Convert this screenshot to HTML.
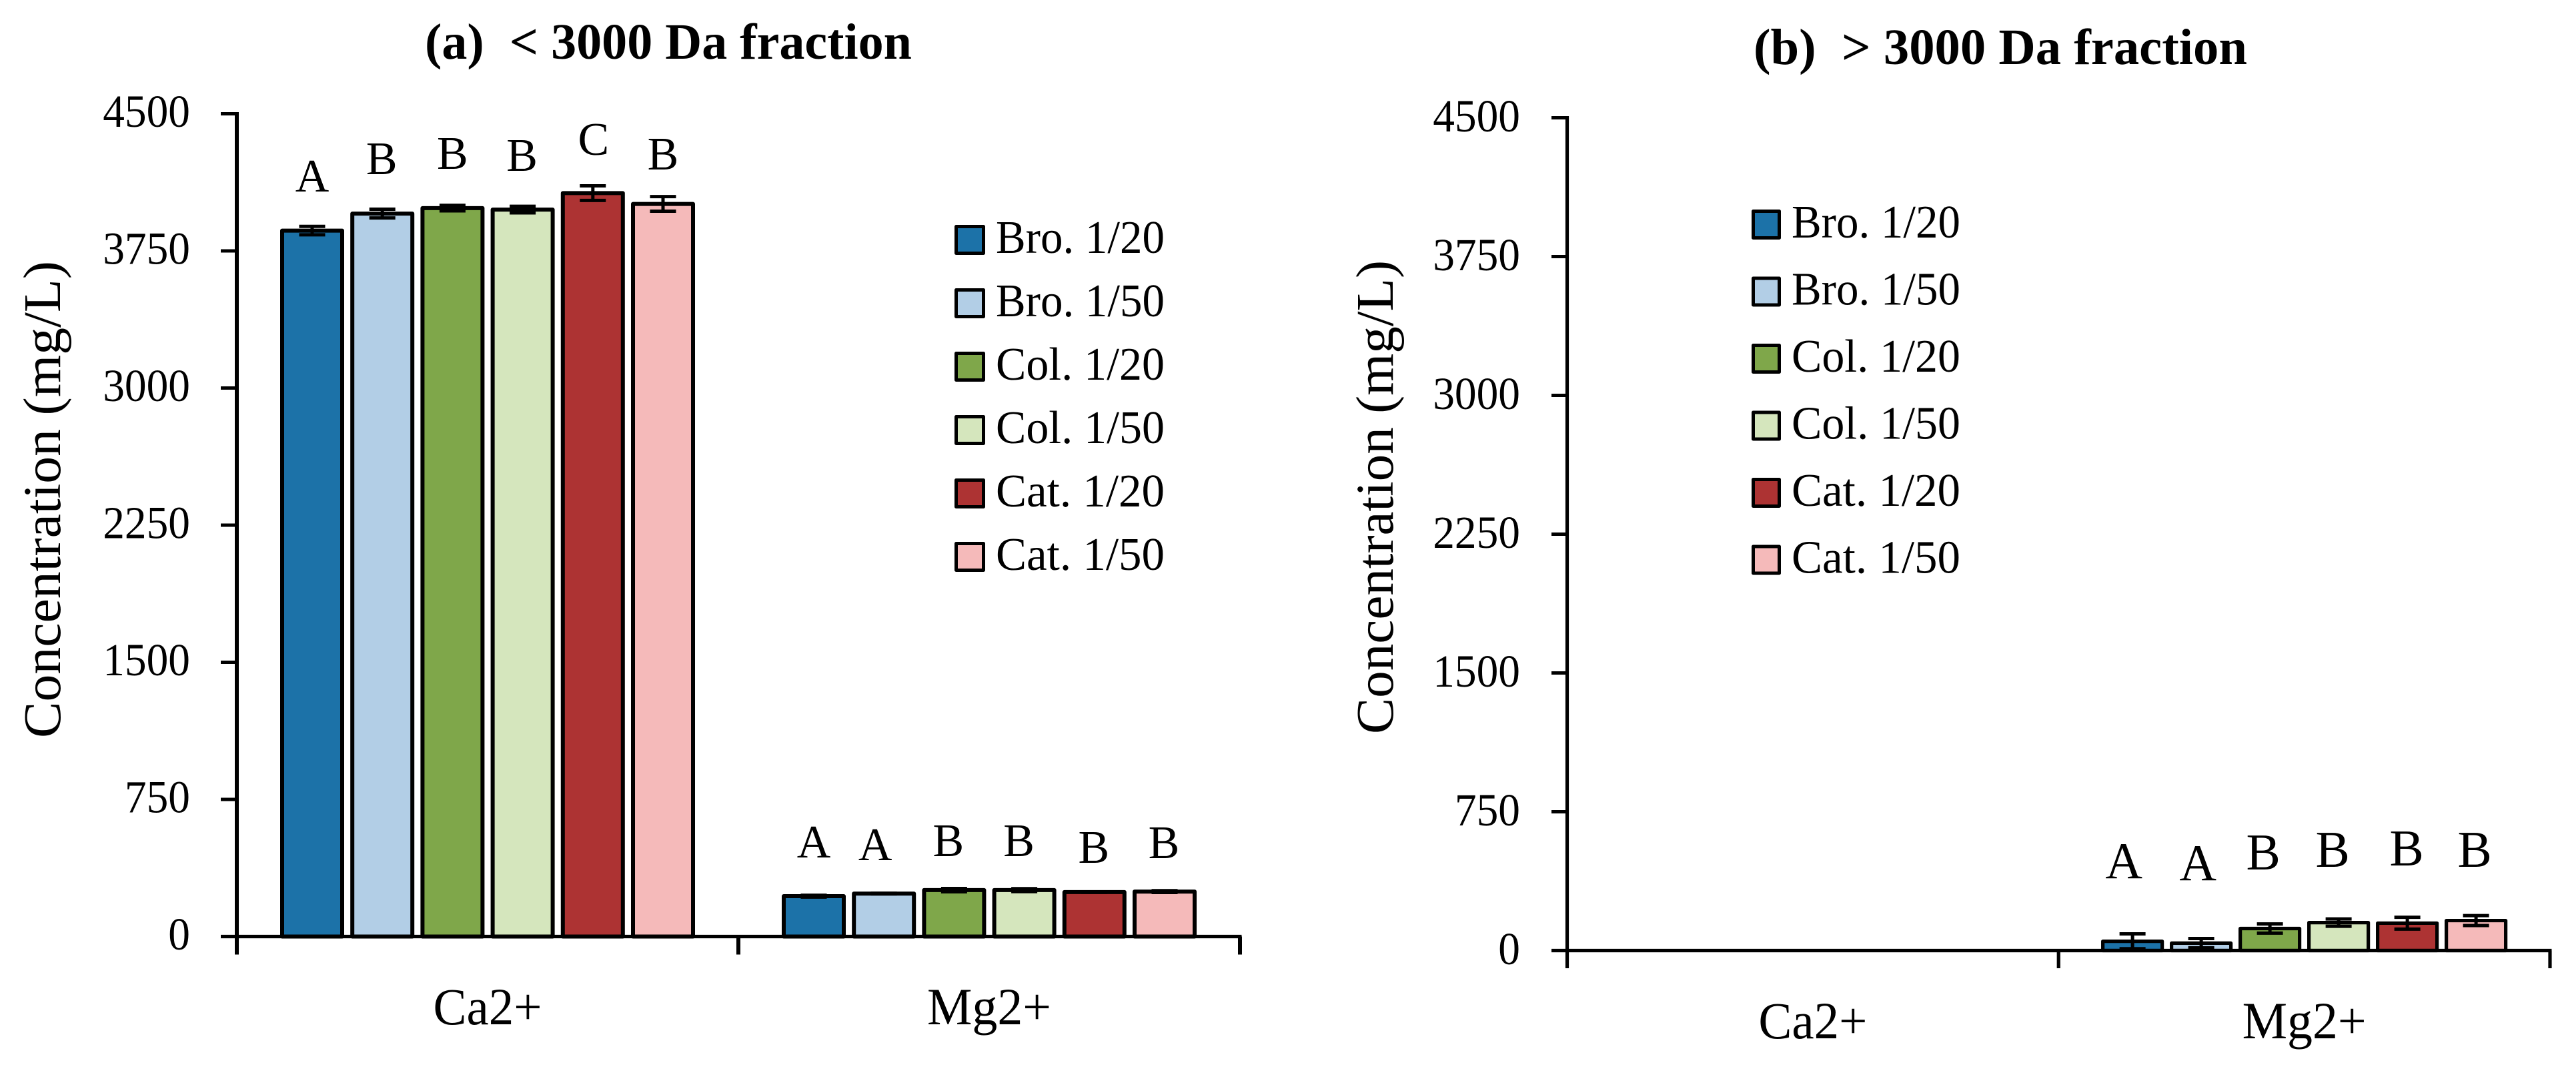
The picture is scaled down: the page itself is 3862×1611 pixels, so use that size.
<!DOCTYPE html>
<html lang="en">
<head>
<meta charset="utf-8">
<title>Ca2+ and Mg2+ concentration by molecular weight fraction</title>
<style>
  html, body { margin: 0; padding: 0; background: #fff; }
  svg { display: block; }
  text { font-family: "Liberation Serif", "DejaVu Serif", serif; fill: #000; white-space: pre; }
</style>
</head>
<body>
<svg id="figure" xmlns="http://www.w3.org/2000/svg" width="3862" height="1611" viewBox="0 0 3862 1611">
  <rect x="0" y="0" width="3862" height="1611" fill="#ffffff"/>
  <text x="637" y="88" font-size="76" font-weight="bold" textLength="730" lengthAdjust="spacingAndGlyphs">(a)  &lt; 3000 Da fraction</text>
  <text x="2629" y="96" font-size="76" font-weight="bold" textLength="740" lengthAdjust="spacingAndGlyphs">(b)  &gt; 3000 Da fraction</text>
  <text transform="translate(90 1106) rotate(-90)" font-size="79" textLength="715" lengthAdjust="spacingAndGlyphs">Concentration (mg/L)</text>
  <text transform="translate(2088 1100) rotate(-90)" font-size="79" textLength="710" lengthAdjust="spacingAndGlyphs">Concentration (mg/L)</text>
  <g id="chart-a"></g>
  <g id="chart-b"></g>
</svg>
<script>
// ---- Chart data ----
const categories = ['Ca2+', 'Mg2+'];
const seriesNames = ['Bro. 1/20', 'Bro. 1/50', 'Col. 1/20', 'Col. 1/50', 'Cat. 1/20', 'Cat. 1/50'];
const tickValues = [0, 750, 1500, 2250, 3000, 3750, 4500];
const tickLabels = ['0', '750', '1500', '2250', '3000', '3750', '4500'];

// Panel (a) < 3000 Da, mg/L, one row per category
const valuesA = [
  [3861, 3954, 3984, 3976, 4066, 4007],
  [221, 235, 254, 254, 243, 246]
];
const errorsA = [
  [23, 24, 15, 18, 40, 40],
  [5, 2, 9, 8, 1, 5]
];
const lettersA = [
  ['A', 'B', 'B', 'B', 'C', 'B'],
  ['A', 'A', 'B', 'B', 'B', 'B']
];
// Height of each significance letter above its bar, in mg/L
const letterLiftA = [
  [213, 215, 215, 212, 210, 188],
  [212, 182, 186, 186, 161, 182]
];
const letterShiftA = [
  [0, -1, 0, -1, 1, 0],
  [0, -13, -8.5, -8, -1, -1]
];

// Panel (b) > 3000 Da, mg/L
const valuesB = [
  [0, 0, 0, 0, 0, 0],
  [50, 40, 119, 151, 148, 162]
];
const errorsB = [
  [0, 0, 0, 0, 0, 0],
  [40, 25, 25, 20, 32, 27]
];
const lettersB = [
  ['', '', '', '', '', ''],
  ['A', 'A', 'B', 'B', 'B', 'B']
];
const letterLiftB = [
  [0, 0, 0, 0, 0, 0],
  [341, 341, 319, 301, 312, 290]
];
const letterShiftB = [
  [0, 0, 0, 0, 0, 0],
  [-13, -5, -10, -9, -1, -2]
];

const seriesColors = ['#1c72a8', '#b2cee6', '#7fa74a', '#d5e6bd', '#ad3333', '#f5baba'];

// ---- Drawing ----
const NS = 'http://www.w3.org/2000/svg';
function mk(tag, attrs, parent) {
  const el = document.createElementNS(NS, tag);
  for (const k in attrs) el.setAttribute(k, attrs[k]);
  parent.appendChild(el);
  return el;
}

const slugs = seriesNames.map(function (s) {
  return s.toLowerCase().replace('. ', '-').replace('/', '-');
});

function drawChart(cfg) {
  const root = document.getElementById(cfg.id);
  const yMax = tickValues[tickValues.length - 1];
  const yScale = function (v) { return cfg.y0 - (v / yMax) * (cfg.y0 - cfg.yTop); };
  const band = (cfg.xEnd - cfg.x0) / categories.length;
  const pitch = cfg.pitch;
  const xCenter = function (c, s) {
    return cfg.x0 + band * (c + 0.5) + pitch * (s - (seriesNames.length - 1) / 2);
  };

  // Bars, error bars and letters
  categories.forEach(function (cat, c) {
    seriesNames.forEach(function (name, s) {
      const v = cfg.values[c][s];
      const e = cfg.errors[c][s];
      const cx = xCenter(c, s);
      const top = yScale(v);

      const bar = mk('rect', {
        x: cx - cfg.barW / 2, y: top, width: cfg.barW, height: Math.max(0, cfg.y0 - top),
        fill: seriesColors[s], stroke: '#000', 'stroke-width': cfg.strokeW, 'stroke-linejoin': 'round'
      }, root);
      
      

      if (v > 0) {
        const hi = yScale(v + e);
        const lo = yScale(v - e);
        const err = mk('path', {
          d: 'M' + cx + ' ' + hi + 'V' + lo +
             'M' + (cx - 19.5) + ' ' + hi + 'H' + (cx + 19.5) +
             'M' + (cx - 19.5) + ' ' + lo + 'H' + (cx + 19.5),
          fill: 'none', stroke: '#000', 'stroke-width': 5
        }, root);
        
        
      }

      const letter = cfg.letters[c][s];
      if (letter) {
        const t = mk('text', {
          x: cx + cfg.letterShift[c][s],
          y: top - (cfg.y0 - yScale(cfg.letterLift[c][s])),
          'font-size': cfg.letterSize,
          'text-anchor': 'middle'
        }, root);
        t.textContent = letter;
        
        
      }
    });
  });

  // Y axis
  const yAxis = mk('line', {
    x1: cfg.x0, x2: cfg.x0, y1: cfg.yTop - 2.5, y2: cfg.y0 + cfg.xTick,
    stroke: '#000', 'stroke-width': cfg.strokeW
  }, root);
  
  

  tickValues.forEach(function (v, i) {
    const tick = mk('line', {
      x1: cfg.x0 - cfg.yTick, x2: cfg.x0, y1: yScale(v), y2: yScale(v),
      stroke: '#000', 'stroke-width': 5
    }, root);
    
    

    const label = mk('text', {
      x: cfg.tickLabelRight, y: yScale(v) + cfg.tickLabelDrop,
      'font-size': 69, 'text-anchor': 'end',
      textLength: tickLabels[i].length * 32.7, lengthAdjust: 'spacingAndGlyphs'
    }, root);
    label.textContent = tickLabels[i];
    
    
  });

  // X axis
  const xAxis = mk('line', {
    x1: cfg.x0 - cfg.yTick, x2: cfg.xEnd + 2.5, y1: cfg.y0, y2: cfg.y0,
    stroke: '#000', 'stroke-width': 5.2
  }, root);
  
  

  for (let i = 1; i <= categories.length; i++) {
    const tx = cfg.x0 + band * i;
    const tick = mk('line', {
      x1: tx, x2: tx, y1: cfg.y0, y2: cfg.y0 + cfg.xTick,
      stroke: '#000', 'stroke-width': cfg.strokeW
    }, root);
    
    
  }

  categories.forEach(function (cat, c) {
    const t = mk('text', {
      x: cfg.x0 + band * (c + 0.5) + cfg.catShift[c], y: cfg.catBaseline,
      'font-size': 78, 'text-anchor': 'middle',
      textLength: cat === 'Ca2+' ? 163 : 186, lengthAdjust: 'spacingAndGlyphs'
    }, root);
    t.textContent = cat;
    
    
  });

  // Legend
  seriesNames.forEach(function (name, s) {
    const rowY = cfg.legendY + s * cfg.legendPitch;
    const entry = mk('g', {}, root);
    
    

    const swatch = mk('rect', {
      x: cfg.legendX, y: rowY, width: cfg.swatchW, height: 40,
      fill: seriesColors[s], stroke: '#000', 'stroke-width': 5, 'stroke-linejoin': 'round'
    }, entry);
    
    

    const text = mk('text', {
      x: cfg.legendTextX, y: rowY + 39.5, 'font-size': 70,
      textLength: 253, lengthAdjust: 'spacingAndGlyphs'
    }, entry);
    text.textContent = name;
    
    
  });
}

drawChart({
  id: 'chart-a', values: valuesA, errors: errorsA, letters: lettersA,
  letterLift: letterLiftA, letterShift: letterShiftA, letterSize: 70,
  x0: 355, xEnd: 1859, y0: 1403.5, yTop: 170.5,
  pitch: 105.2, barW: 90, strokeW: 6, yTick: 24, xTick: 27,
  tickLabelRight: 285, tickLabelDrop: 19.5,
  catShift: [0, 0], catBaseline: 1535,
  legendX: 1433.5, legendY: 339.5, legendPitch: 95, swatchW: 41, legendTextX: 1493
});

drawChart({
  id: 'chart-b', values: valuesB, errors: errorsB, letters: lettersB,
  letterLift: letterLiftB, letterShift: letterShiftB, letterSize: 77,
  x0: 2349.5, xEnd: 3823, y0: 1424.5, yTop: 176.5,
  pitch: 103, barW: 89, strokeW: 5.2, yTick: 23.5, xTick: 26.5,
  tickLabelRight: 2279, tickLabelDrop: 20.5,
  catShift: [0, 0], catBaseline: 1556,
  legendX: 2628.5, legendY: 316.5, legendPitch: 100.5, swatchW: 39, legendTextX: 2686
});
</script>
</body>
</html>
